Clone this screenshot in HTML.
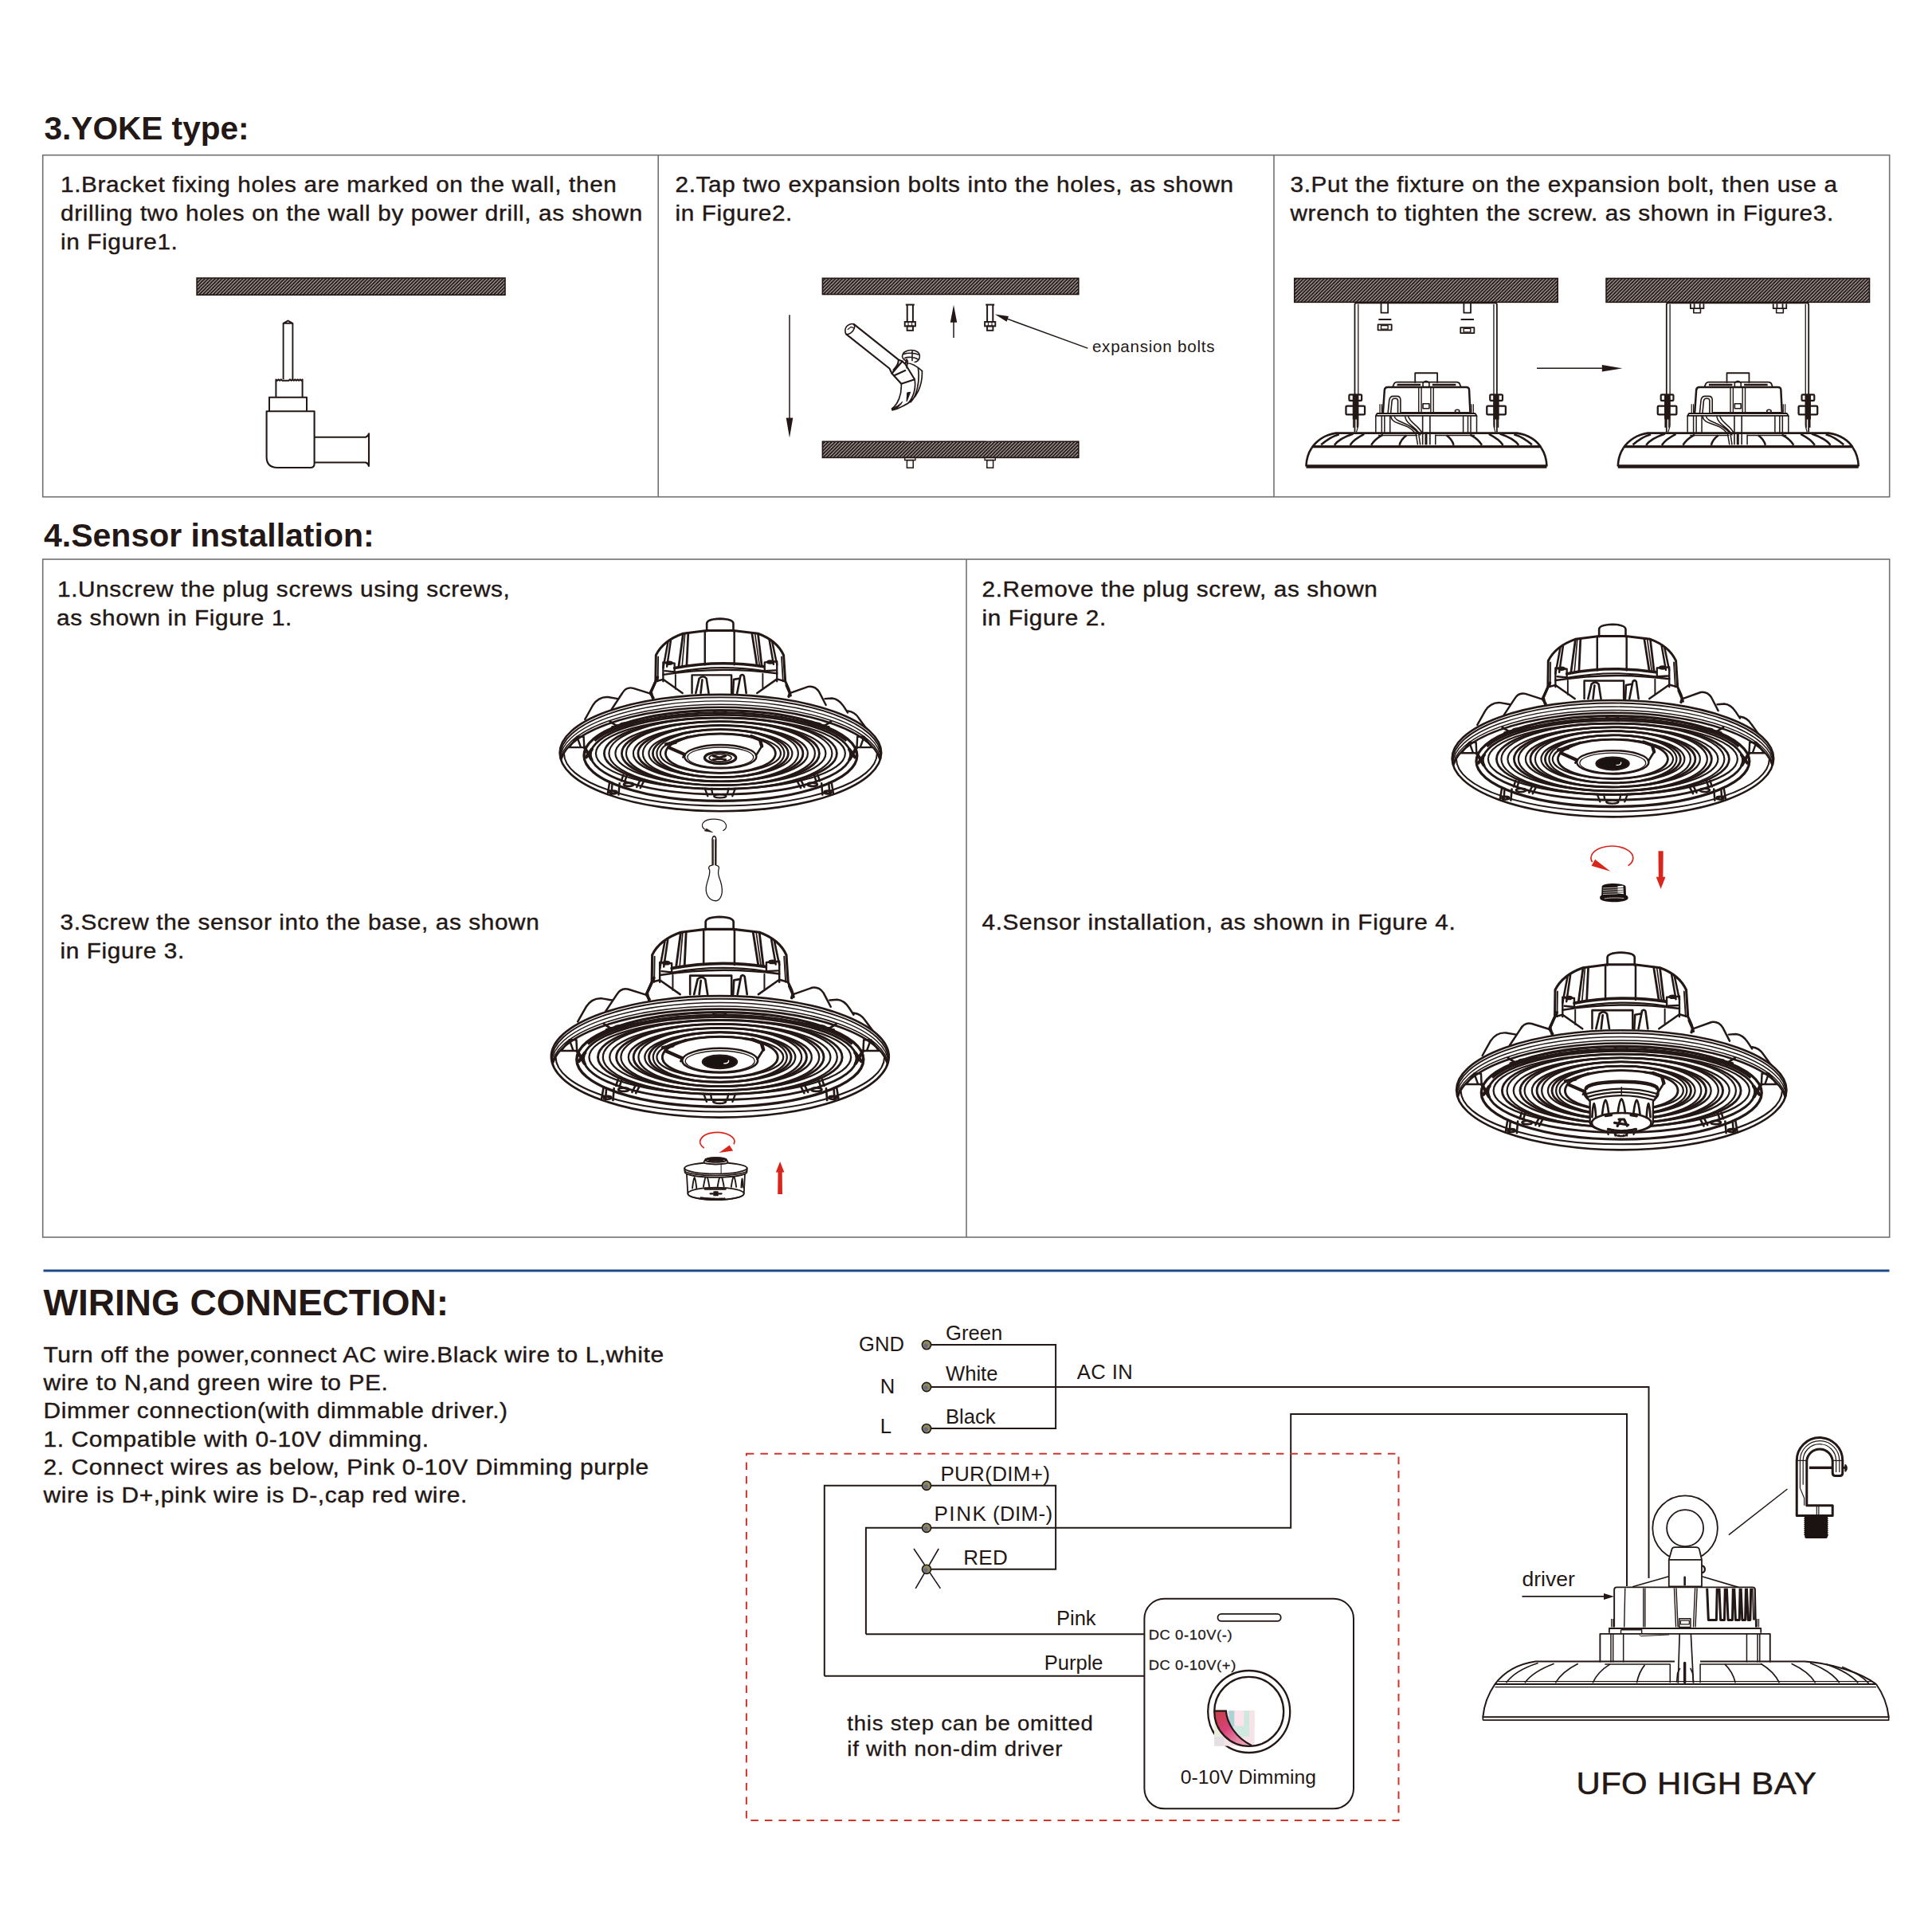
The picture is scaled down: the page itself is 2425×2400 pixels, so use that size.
<!DOCTYPE html>
<html><head><meta charset="utf-8"><title>Installation guide</title>
<style>
html,body{margin:0;padding:0;background:#fff;}
body{width:2425px;height:2400px;overflow:hidden;}
svg{display:block;font-family:"Liberation Sans",sans-serif;fill:#231815;}
</style></head><body>
<svg width="2425" height="2400" viewBox="0 0 2425 2400">
<defs>
<pattern id="hatch" patternUnits="userSpaceOnUse" width="4.35" height="4.35">
<rect x="0" y="0" width="4.35" height="4.35" fill="#231815"/>
<g stroke="#cdc7c5" stroke-width="1.05">
<line x1="-1" y1="5.35" x2="5.35" y2="-1"/>
<line x1="-5.35" y1="5.35" x2="1" y2="-1"/>
<line x1="3.35" y1="5.35" x2="9.7" y2="-1"/>
</g></pattern>
<clipPath id="rimclip"><ellipse cx="904.4" cy="945.1" rx="201.8" ry="73.2"/></clipPath>
<g id="lampbody">
<g fill="none" stroke="#231815" stroke-width="2.2" stroke-linejoin="round" stroke-linecap="round">
<path d="M 887.14 792.14 L 887.14 782.62 Q 887.62 777.14 903.81 776.67 Q 920 777.14 920.48 782.62 L 920.48 792.14" stroke-width="2.6"/>
<path d="M 819.29 876.67 L 817.38 868.33 L 822.86 855.24 L 823.33 822.38 Q 832.38 804.05 857.38 795.24 L 887.14 791.43 L 920.48 791.43 L 951.43 795.24 Q 975.24 804.05 983.57 822.38 L 985.71 855.24 L 990 864.76 L 992.38 873.1" stroke-width="3"/>
<path d="M 825.71 855.24 L 826.19 824.29 M 982.86 855.24 L 980.95 824.29" stroke-width="1.78"/>
<path d="M 884.76 792.14 L 884.76 834.29 M 921.67 792.14 L 921.67 834.29" stroke-width="2.46"/>
<path d="M 857.38 795.71 L 851.9 836.67 M 863.81 794.76 L 861.9 835.71 M 943.81 794.76 L 950.24 835.71 M 951.43 795.71 L 956.19 836.19" stroke-width="2.73"/>
<path d="M 859.76 795.71 L 856.19 836.19 M 947.62 795.24 L 953.33 835.71" stroke-width="1.64"/>
<path d="M 838.33 806.43 L 832.38 838.57 M 841.9 804.29 L 837.14 836.67 M 969.29 805.71 L 975.24 834.29 M 965.71 803.81 L 970.95 833.81" stroke-width="2.46"/>
<path d="M 846.67 838.57 Q 902.62 827.86 958.57 836.67" stroke-width="3.55"/>
<path d="M 846.67 843.81 Q 902.62 833.33 958.57 842.14" stroke-width="2.18"/>
<path d="M 832.38 846.9 Q 902.62 835.71 975.24 845.24" stroke-width="2.46"/>
<path d="M 832.38 831.43 L 832.38 855.24 M 832.38 831.43 L 846.67 832.62 L 846.67 843.33 M 834.76 842.14 L 846.67 843.33 M 975.24 830.24 L 975.24 855.24 M 975.24 830.24 L 959.76 831.43 L 959.76 842.14 M 973.33 841.43 L 959.76 842.14" stroke-width="2.32"/>
<ellipse cx="840" cy="832.14" rx="3.81" ry="1.67" stroke-width="2.18"/>
<ellipse cx="966.9" cy="830.95" rx="3.81" ry="1.67" stroke-width="2.18"/>
<path d="M 847.86 846.9 L 847.86 864.76 M 957.38 845.71 L 957.38 863.57" stroke-width="1.92"/>
<path d="M 832.38 852.86 L 856.67 870 M 975.24 852.38 L 950.24 870 M 822.86 855.24 L 832.38 852.86 M 985.71 855.24 L 975.24 852.38" stroke-width="2.46"/>
<path d="M 868.57 870 L 868.57 847.38 L 918.1 847.38 L 918.1 870" stroke-width="2.46"/>
<path d="M 873.33 870 L 877.62 851.67 Q 882.38 846.9 886.67 851.67 L 889.52 870 M 879.52 870 L 881.43 853.33 M 920 870 L 920.95 852.86 L 927.62 851.67 M 925.24 870 L 929.52 848.1 Q 932.38 845.71 933.81 848.57 L 936.67 870" stroke-width="2.6"/>
<path d="M 816.43 870.71 L 794.76 863.81 Q 785.95 861.67 780.95 870.24 L 767.62 890.48" stroke-width="2.4"/>
<path d="M 775.48 877.14 L 763.33 875 Q 751.43 874.05 744.29 885 L 734.29 902.86" stroke-width="2.4"/>
<path d="M 991.19 870.24 L 1014.52 861.9 Q 1022.86 860.48 1028.1 868.33 L 1036.67 885" stroke-width="2.4"/>
<path d="M 1035.48 877.14 L 1044.29 876.43 Q 1052.62 877.14 1058.57 886.19 L 1064.05 894.52" stroke-width="2.4"/>
<path d="M 1064.05 892.38 Q 1072.86 893.33 1078.1 901.67 L 1087.62 914.76 L 1099.52 930.95" stroke-width="2.4"/>
<path d="M 825.48 850 L 816.19 870 L 820 876.19 M 987.14 860 L 991.43 870 L 990 874.29" stroke-width="3.4"/>
</g>
<g fill="none" stroke="#231815">
<ellipse cx="904.4" cy="945.1" rx="201.8" ry="73.2" stroke-width="2.6" fill="#fff"/>
<g clip-path="url(#rimclip)">
<path d="M703.4 948 A201 72.6 0 0 1 1105.4 948" stroke-width="1.9"/>
<path d="M703.4 952.5 A201 72.6 0 0 1 1105.4 952.5" stroke-width="1.4"/>
<path d="M703.4 956.9 A201 72.6 0 0 1 1105.4 956.9" stroke-width="1.5"/>
<path d="M703.4 960.3 A201 72.6 0 0 1 1105.4 960.3" stroke-width="2.5"/>
</g>
<path d="M708 946 A196.4 65.5 0 0 0 1100.8 946" stroke-width="2"/>
<ellipse cx="904.4" cy="948.5" rx="171.4" ry="56.9" stroke-width="3.3"/>
<ellipse cx="904.4" cy="947.2" rx="163.1" ry="49.9" stroke-width="2.8"/>
<path d="M746.4 930 A167.5 52.6 0 0 1 1062.4 930" stroke-width="3"/>
<ellipse cx="904.4" cy="945.7" rx="156.5" ry="44.7" stroke-width="2.2"/>
<ellipse cx="904.4" cy="945.7" rx="146" ry="44.7" stroke-width="2.8"/>
<ellipse cx="904.4" cy="945.7" rx="140" ry="44.7" stroke-width="2.2"/>
<ellipse cx="904.4" cy="945.7" rx="132" ry="40" stroke-width="2.2"/>
<ellipse cx="904.4" cy="945.7" rx="124" ry="40" stroke-width="2.8"/>
<ellipse cx="904.4" cy="945.7" rx="118.5" ry="40" stroke-width="2.2"/>
<ellipse cx="904.4" cy="945.7" rx="109.5" ry="35.2" stroke-width="2.2"/>
<ellipse cx="904.4" cy="945.7" rx="103.5" ry="35.2" stroke-width="2.8"/>
<ellipse cx="904.4" cy="945.7" rx="97.5" ry="35.2" stroke-width="2.2"/>
<ellipse cx="904.4" cy="945.7" rx="90" ry="30" stroke-width="2.2"/>
<ellipse cx="904.4" cy="945.7" rx="85" ry="30" stroke-width="2.8"/>
<ellipse cx="904.4" cy="945.7" rx="80" ry="30" stroke-width="2.2"/>
<ellipse cx="904.4" cy="945.7" rx="75.6" ry="24.7" stroke-width="2.2"/>
<ellipse cx="904.4" cy="945.7" rx="69" ry="24.7" stroke-width="2.8"/>
<ellipse cx="904.3" cy="949.7" rx="45.2" ry="14.7" stroke-width="2.4"/>
<ellipse cx="904.3" cy="950.6" rx="41.5" ry="12.6" stroke-width="1.3"/>
</g>
<g fill="none" stroke="#231815" stroke-width="2.4" stroke-linejoin="round" stroke-linecap="round">
<path d="M 714.52 938.1 L 724.29 924.76 L 732.62 924.76 L 733.33 938.1 Z M 724.29 924.76 L 729.05 938.1 M 1094.29 938.1 L 1084.52 924.76 L 1076.19 924.76 L 1075.48 938.1 Z M 1084.52 924.76 L 1079.76 938.1" stroke-width="2.4"/>
<path d="M 733.81 938.57 L 742.38 953.33 M 742.86 940.48 L 735.71 950.48 M 1075 938.57 L 1066.43 953.33 M 1065.95 940.48 L 1073.1 950.48" stroke-width="4"/>
<path d="M 762.86 995.71 L 765.24 981.43 M 767.38 997.14 L 768.57 982.86 M 776.43 997.62 L 777.62 983.33 M 1045.95 995.71 L 1043.57 981.43 M 1041.43 997.14 L 1040.24 982.86 M 1032.38 997.62 L 1031.19 983.33" stroke-width="2.5"/>
<path d="M 780 980.24 L 782.38 972.62 M 784.52 980.24 L 786.9 972.62 M 799.29 987.86 L 803.81 978.57 M 803.81 989.05 L 808.57 979.76 M 1028.81 980.24 L 1026.43 972.62 M 1024.29 980.24 L 1021.9 972.62 M 1009.52 987.86 L 1005 978.57 M 1005 989.05 L 1000.24 979.76" stroke-width="2.5"/>
<path d="M 884.76 989.76 L 888.33 999.29 M 922.86 989.76 L 919.29 999.29 M 893.1 989.76 L 894.29 996.9 M 914.52 989.76 L 912.86 996.9" stroke-width="2.3"/>
<ellipse cx="903.81" cy="999.29" rx="7.62" ry="2.14" stroke-width="2.3"/>
<ellipse cx="903.81" cy="894.05" rx="7.62" ry="2.14" stroke-width="2.3"/>
<ellipse cx="769.76" cy="994.52" rx="4.52" ry="1.9" stroke-width="2.6"/>
<ellipse cx="1039.05" cy="994.52" rx="4.52" ry="1.9" stroke-width="2.6"/>
<ellipse cx="789.05" cy="984.76" rx="6.19" ry="2.14" stroke-width="2.6"/>
<ellipse cx="1019.76" cy="984.76" rx="6.19" ry="2.14" stroke-width="2.6"/>
<ellipse cx="785.95" cy="909.29" rx="7.14" ry="1.9" stroke-width="2.3"/>
<ellipse cx="1022.86" cy="909.29" rx="7.14" ry="1.9" stroke-width="2.3"/>
<path d="M 765.71 905.71 L 775.71 912.38 M 1043.1 905.71 L 1033.1 912.38 M 768.57 912.38 L 800.24 904.05 M 1040.24 912.38 L 1008.57 904.05" stroke-width="2.8"/>
<path d="M 835.95 934.29 L 847.86 931.9 M 839.05 938.1 L 859.05 946.9 M 943.1 924.29 L 953.81 928.57 L 956.19 936.67" stroke-width="4.2"/>
<path d="M 847.86 931.9 L 863.33 924.76 M 932.38 923.33 L 943.1 924.29 M 859.05 946.9 L 857.38 950.48 M 956.19 936.67 L 949.05 948.1" stroke-width="2.6"/>
</g>
</g>
</defs>
<!-- layout -->
<g fill="none" stroke="#727171" stroke-width="1.6">
<rect x="53.7" y="194.7" width="2318" height="429"/>
<line x1="826.2" y1="194.7" x2="826.2" y2="623.7"/>
<line x1="1599" y1="194.7" x2="1599" y2="623.7"/>
<rect x="53.7" y="702" width="2318" height="851"/>
<line x1="1213" y1="702" x2="1213" y2="1553"/>
</g>
<line x1="54.5" y1="1595" x2="2371.5" y2="1595" stroke-width="3.2" stroke="#1d4b8a"/>
<text x="55.5" y="174.5" font-size="40.6" font-weight="bold">3.YOKE type:</text>
<text x="55" y="686" font-size="41" font-weight="bold">4.Sensor installation:</text>
<text x="54.5" y="1651" font-size="46" font-weight="bold">WIRING CONNECTION:</text>
<text transform="translate(76 241.3) scale(1.07 1)" font-size="27.8" letter-spacing="0.6" stroke="#231815" stroke-width="0.4">1.Bracket fixing holes are marked on the wall, then</text>
<text transform="translate(76 277) scale(1.07 1)" font-size="27.8" letter-spacing="0.6" stroke="#231815" stroke-width="0.4">drilling two holes on the wall by power drill, as shown</text>
<text transform="translate(76 312.7) scale(1.07 1)" font-size="27.8" letter-spacing="0.6" stroke="#231815" stroke-width="0.4">in Figure1.</text>
<text transform="translate(847.5 241.3) scale(1.07 1)" font-size="27.8" letter-spacing="0.6" stroke="#231815" stroke-width="0.4">2.Tap two expansion bolts into the holes, as shown</text>
<text transform="translate(847.5 277) scale(1.07 1)" font-size="27.8" letter-spacing="0.6" stroke="#231815" stroke-width="0.4">in Figure2.</text>
<text transform="translate(1619.5 241.3) scale(1.07 1)" font-size="27.8" letter-spacing="0.6" stroke="#231815" stroke-width="0.4">3.Put the fixture on the expansion bolt, then use a</text>
<text transform="translate(1619.5 277) scale(1.07 1)" font-size="27.8" letter-spacing="0.6" stroke="#231815" stroke-width="0.4">wrench to tighten the screw. as shown in Figure3.</text>
<text transform="translate(72 748.7) scale(1.07 1)" font-size="27.8" letter-spacing="0.6" stroke="#231815" stroke-width="0.4">1.Unscrew the plug screws using screws,</text>
<text transform="translate(71 785) scale(1.07 1)" font-size="27.8" letter-spacing="0.6" stroke="#231815" stroke-width="0.4">as shown in Figure 1.</text>
<text transform="translate(75.5 1167) scale(1.07 1)" font-size="27.8" letter-spacing="0.6" stroke="#231815" stroke-width="0.4">3.Screw the sensor into the base, as shown</text>
<text transform="translate(75.5 1203) scale(1.07 1)" font-size="27.8" letter-spacing="0.6" stroke="#231815" stroke-width="0.4">in Figure 3.</text>
<text transform="translate(1232.5 748.7) scale(1.07 1)" font-size="27.8" letter-spacing="0.6" stroke="#231815" stroke-width="0.4">2.Remove the plug screw, as shown</text>
<text transform="translate(1232.5 785) scale(1.07 1)" font-size="27.8" letter-spacing="0.6" stroke="#231815" stroke-width="0.4">in Figure 2.</text>
<text transform="translate(1232.5 1167) scale(1.07 1)" font-size="27.8" letter-spacing="0.6" stroke="#231815" stroke-width="0.4">4.Sensor installation, as shown in Figure 4.</text>
<text transform="translate(54.5 1710) scale(1.07 1)" font-size="28" letter-spacing="0.56" stroke="#231815" stroke-width="0.4">Turn off the power,connect AC wire.Black wire to L,white</text>
<text transform="translate(54.5 1745.2) scale(1.07 1)" font-size="28" letter-spacing="0.56" stroke="#231815" stroke-width="0.4">wire to N,and green wire to PE.</text>
<text transform="translate(54.5 1780.4) scale(1.07 1)" font-size="28" letter-spacing="0.56" stroke="#231815" stroke-width="0.4">Dimmer connection(with dimmable driver.)</text>
<text transform="translate(54.5 1815.6) scale(1.07 1)" font-size="28" letter-spacing="0.56" stroke="#231815" stroke-width="0.4">1. Compatible with 0-10V dimming.</text>
<text transform="translate(54.5 1850.8) scale(1.07 1)" font-size="28" letter-spacing="0.56" stroke="#231815" stroke-width="0.4">2. Connect wires as below, Pink 0-10V Dimming purple</text>
<text transform="translate(54.5 1886) scale(1.07 1)" font-size="28" letter-spacing="0.56" stroke="#231815" stroke-width="0.4">wire is D+,pink wire is D-,cap red wire.</text>
<!-- wiring -->
<g fill="none" stroke="#231815" stroke-width="2">
<path d="M1163 1688.1 H1325.1 V1793.1 H1163"/>
<path d="M1163 1741 H2069.5 V1981"/>
<path d="M1086.9 2051.3 V1917.8 H1620.2 V1775 H2042 V1991"/>
<path d="M1034.8 2103.8 V1864.8 H1325.1 V1969.8 H1163"/>
<path d="M1086.9 2051.3 H1436.4"/>
<path d="M1034.8 2103.8 H1436.4"/>
<path d="M1147 1944 L1180.4 1993.9 M1178.2 1944 L1149.2 1993.9" stroke-width="1.6"/>
<rect x="1436.4" y="2006.8" width="262.6" height="263.5" stroke-width="2" rx="25"/>
<rect x="1528.5" y="2025.9" width="79.2" height="8.9" stroke-width="1.8" rx="4.4"/>
<circle cx="1567.7" cy="2148.5" r="51.5" stroke-width="2.3"/>
</g>
<rect x="1524.2" y="2147.3" width="50.5" height="44.3" fill="#f6e3e8"/>
<rect x="1542.5" y="2147.3" width="7" height="20" fill="#a9d3d4"/>
<rect x="1549.5" y="2147.3" width="12" height="18" fill="#fbe4ec"/>
<rect x="1561.5" y="2147.3" width="6.5" height="20" fill="#cde9dd"/>
<rect x="1568" y="2147.3" width="6.7" height="20" fill="#f8e3e6"/>
<rect x="1547" y="2167" width="21" height="13" fill="#cfe9e0"/>
<rect x="1524.2" y="2160" width="8" height="20" fill="#e9efd9"/>
<rect x="1524.2" y="2180" width="12" height="11.6" fill="#e3dfe2"/>
<linearGradient id="cres" x1="0" y1="0" x2="0.9" y2="1"><stop offset="0" stop-color="#c4413f"/><stop offset="0.45" stop-color="#d8417a"/><stop offset="1" stop-color="#f0b5c4"/></linearGradient>
<path d="M1524.3 2147.3 H1538.8 C1540 2163 1551 2181 1571 2191 A43.5 43.5 0 0 1 1524.3 2147.3 Z" fill="url(#cres)"/>
<circle cx="1567.7" cy="2148.4" r="43.5" fill="none" stroke="#231815" stroke-width="2.3"/>
<path d="M1524.3 2147.6 H1538.8 C1540 2163 1551 2181 1571 2191" stroke-width="2.2" fill="none" stroke="#231815"/>
<circle cx="1163" cy="1688.1" r="5.6" fill="#8d8a5c" stroke="#231815" stroke-width="1.6"/>
<circle cx="1162" cy="1689.1" r="2.6" fill="#6a6a86"/>
<circle cx="1163" cy="1741" r="5.6" fill="#8d8a5c" stroke="#231815" stroke-width="1.6"/>
<circle cx="1162" cy="1742" r="2.6" fill="#6a6a86"/>
<circle cx="1163" cy="1793.1" r="5.6" fill="#8d8a5c" stroke="#231815" stroke-width="1.6"/>
<circle cx="1162" cy="1794.1" r="2.6" fill="#6a6a86"/>
<circle cx="1163" cy="1864.8" r="5.6" fill="#8d8a5c" stroke="#231815" stroke-width="1.6"/>
<circle cx="1162" cy="1865.8" r="2.6" fill="#6a6a86"/>
<circle cx="1163" cy="1917.8" r="5.6" fill="#8d8a5c" stroke="#231815" stroke-width="1.6"/>
<circle cx="1162" cy="1918.8" r="2.6" fill="#6a6a86"/>
<circle cx="1163" cy="1969.8" r="5.6" fill="#8d8a5c" stroke="#231815" stroke-width="1.6"/>
<circle cx="1162" cy="1970.8" r="2.6" fill="#6a6a86"/>
<rect x="936.9" y="1824.7" width="818.6" height="460.3" fill="none" stroke="#d2342b" stroke-width="2" stroke-dasharray="9.5 8"/>
<text x="1078" y="1695.6" font-size="25.6">GND</text>
<text x="1104.7" y="1749" font-size="25.6">N</text>
<text x="1104.7" y="1798.9" font-size="25.6">L</text>
<text x="1187" y="1682.3" font-size="25.6">Green</text>
<text x="1187" y="1732.6" font-size="25.6">White</text>
<text x="1187" y="1786.9" font-size="25.6">Black</text>
<text x="1351.8" y="1731.3" font-size="25.6" letter-spacing="0.4">AC IN</text>
<text x="1180.4" y="1859" font-size="26" letter-spacing="0.3">PUR(DIM+)</text>
<text x="1172.4" y="1909.3" font-size="26" letter-spacing="1.6">PINK</text>
<text x="1246" y="1909.3" font-size="26" letter-spacing="0.3">(DIM-)</text>
<text x="1209.3" y="1964" font-size="26" letter-spacing="0.3">RED</text>
<text x="1326" y="2040.2" font-size="25.5">Pink</text>
<text x="1310.8" y="2095.8" font-size="25.5">Purple</text>
<text transform="translate(1441.7 2058) scale(1.08 1)" font-size="17" letter-spacing="0.56" stroke="#231815" stroke-width="0.25">DC 0-10V(-)</text>
<text transform="translate(1441.7 2095.8) scale(1.08 1)" font-size="17" letter-spacing="0.56" stroke="#231815" stroke-width="0.25">DC 0-10V(+)</text>
<text x="1481.8" y="2239.1" font-size="24.7">0-10V Dimming</text>
<text transform="translate(1063.3 2172.4) scale(1.06 1)" font-size="26" letter-spacing="0.72" stroke="#231815" stroke-width="0.3">this step can be omitted</text>
<text transform="translate(1063.3 2203.5) scale(1.06 1)" font-size="26" letter-spacing="0.72" stroke="#231815" stroke-width="0.3">if with non-dim driver</text>
<text x="1910.5" y="1991.2" font-size="26.5">driver</text>
<text transform="translate(1978.5 2251.5) scale(1.08 1)" font-size="38.8" letter-spacing="0.35" stroke="#231815" stroke-width="0.5">UFO HIGH BAY</text>
<!-- yoke -->
<rect x="247.1" y="349" width="386.9" height="21.2" stroke-width="1.6" fill="url(#hatch)" stroke="#231815"/>
<g fill="none" stroke="#231815" stroke-width="2" stroke-linejoin="round">
<path d="M355.6 476.2 V405.8 L361.5 402.5 L367.4 405.8 V476.2 M355.6 405.8 H367.4" stroke-width="1.9"/>
<path d="M346.4 498.7 V476.4 l1.6 1.3 l1.6 -1.3 l1.6 1.3 l1.6 -1.3 l1.6 1.3 h8 l1.6 -1.3 l1.6 1.3 l1.6 -1.3 l1.6 1.3 l1.6 -1.3 l1.6 1.3 l1.6 -1.3 l1.6 1.3 l1.6 -1.3 l1.6 1.3 l1.2 -1.3 V498.7"/>
<path d="M338 516.3 V498.7 H385 V516.3"/>
<path d="M334.6 516.3 H394.6 V582 Q394.6 587 389.6 587 H348 Q334.6 587 334.6 573.6 Z" stroke-width="2.1"/>
<path d="M394.6 548.7 H459 C461 548 462.5 546.5 463 544.3 V585 C462.5 582.6 461 581.2 459 580.5 H394.6" stroke-width="2.1"/>
</g>
<rect x="1032.4" y="349.3" width="321.4" height="20.2" stroke-width="1.6" fill="url(#hatch)" stroke="#231815"/>
<rect x="1032.4" y="554.2" width="321.4" height="20.2" stroke-width="1.6" fill="url(#hatch)" stroke="#231815"/>
<line x1="991" y1="395.2" x2="991" y2="530" stroke-width="1.5" stroke="#231815"/>
<path d="M991 549.6 L986.7 524.6 L995.3 524.6 Z" fill="#231815" stroke="none"/>
<line x1="1197" y1="424.1" x2="1197" y2="400" stroke-width="1.5" stroke="#231815"/>
<path d="M1197 382.8 L1201.2 404.8 L1192.8 404.8 Z" fill="#231815" stroke="none"/>
<g fill="none" stroke="#231815">
<path d="M1136.8 382.5 h11 M1138.7 382.5 v21.5 M1145.9 382.5 v21.5" stroke-width="2"/>
<rect x="1135.7" y="404" width="13.2" height="5.4" stroke-width="1.9"/>
<line x1="1140" y1="404" x2="1140" y2="409.4" stroke-width="1.1"/>
<line x1="1144.6" y1="404" x2="1144.6" y2="409.4" stroke-width="1.1"/>
<rect x="1138.6" y="409.4" width="7.4" height="5.4" stroke-width="1.9"/>
<path d="M1237.2 382.5 h11 M1239.1 382.5 v21.5 M1246.3 382.5 v21.5" stroke-width="2"/>
<rect x="1236.1" y="404" width="13.2" height="5.4" stroke-width="1.9"/>
<line x1="1240.4" y1="404" x2="1240.4" y2="409.4" stroke-width="1.1"/>
<line x1="1245" y1="404" x2="1245" y2="409.4" stroke-width="1.1"/>
<rect x="1239" y="409.4" width="7.4" height="5.4" stroke-width="1.9"/>
<rect x="1135.7" y="574.4" width="13.2" height="3.2" stroke-width="1.4"/>
<rect x="1138.4" y="577.6" width="7.8" height="9.6" stroke-width="1.5"/>
<line x1="1137.3" y1="553.6" x2="1147.3" y2="553.6" stroke-width="1" stroke="#9a9594"/>
<rect x="1236.1" y="574.4" width="13.2" height="3.2" stroke-width="1.4"/>
<rect x="1238.8" y="577.6" width="7.8" height="9.6" stroke-width="1.5"/>
<line x1="1237.7" y1="553.6" x2="1247.7" y2="553.6" stroke-width="1" stroke="#9a9594"/>
</g>
<line x1="1365.3" y1="437.1" x2="1258.19" y2="398.03" stroke-width="1.5" stroke="#231815"/>
<path d="M1248.8 394.6 L1266 397.04 L1263.54 403.81 Z" fill="#231815" stroke="none"/>
<text x="1370.9" y="441.8" font-size="20.6" letter-spacing="0.75">expansion bolts</text>
<g fill="none" stroke="#231815" stroke-width="2.1" stroke-linejoin="round" stroke-linecap="round">
<path d="M 1071.68 406.89 L 1127.58 451.37 L 1132.55 453.48 M 1062.36 419.69 L 1116.4 462.55 L 1119.5 468.76 M 1127.58 451.37 Q 1128.82 456.96 1121.37 464.41"/>
<path d="M 1071.68 406.89 C 1066.71 405.4 1060.5 409.75 1060.87 415.34 C 1061.12 419.07 1062.36 419.69 1062.36 419.69 M 1071.68 406.89 C 1074.16 409.75 1071.68 415.34 1067.95 417.83 C 1065.47 419.69 1062.98 419.69 1062.36 419.69" stroke-width="1.6"/>
<path d="M 1064.22 413.48 L 1067.95 410.37 L 1071.68 411.61" stroke-width="1.2"/>
<path d="M 1119.5 468.76 L 1132.55 453.48 L 1136.27 456.96 L 1148.07 476.21 L 1131.3 481.8 Z M 1122.61 471.24 L 1136.27 465.03 M 1136.27 456.96 L 1138.14 451.37"/>
<path d="M 1132.55 447.64 C 1132.55 442.05 1138.14 439.57 1143.73 439.57 C 1149.94 439.57 1154.91 442.67 1154.29 447.64 C 1154.29 451.99 1150.56 454.47 1148.07 454.47 M 1132.55 447.64 C 1133.17 450.75 1135.65 452.61 1139.38 453.23 M 1134.41 444.53 C 1138.14 442.67 1148.07 442.67 1152.42 445.16 M 1135.65 449.5 C 1139.38 447.64 1148.07 448.26 1151.8 450.75 M 1144.97 440.19 L 1144.97 452.61" stroke-width="1.6"/>
<path d="M 1138.14 455.71 C 1143.11 455.71 1149.32 458.2 1157.39 465.65 M 1139.38 453.23 L 1138.14 461.93" stroke-width="1.6"/>
<path d="M 1157.39 465.65 C 1158.01 481.8 1151.8 501.68 1134.41 509.13 C 1129.44 511.61 1124.47 514.1 1120.12 514.72 L 1119.5 512.86 C 1126.96 507.89 1131.93 495.47 1131.3 481.8 M 1148.07 476.21 C 1149.94 486.77 1146.83 499.19 1139.38 506.65 M 1152.42 461.93 C 1154.91 479.32 1150.56 496.71 1143.11 504.78" stroke-width="1.7"/>
<path d="M 1138.76 492.98 L 1138.14 503.54 L 1142.48 492.36 Z" stroke-width="1.2" fill="#231815"/>
<path d="M 1120.12 514.72 L 1119.5 512.86 C 1124.47 510.99 1129.44 507.89 1132.55 504.16 C 1130.68 509.13 1125.71 512.86 1120.12 514.72 Z" stroke-width="1" fill="#231815"/>
</g>
<rect x="1624.75" y="349.44" width="330.45" height="29.9" stroke-width="1.6" fill="url(#hatch)" stroke="#231815"/>
<g fill="none" stroke="#231815" stroke-width="1.8" stroke-linejoin="round">
<path d="M 1700.48 542.6 L 1700.48 382.29 Q 1700.48 380.32 1702.84 380.32 L 1876.52 380.32 Q 1878.88 380.32 1878.88 382.29 L 1878.88 542.6"/>
<path d="M 1704.81 534.73 L 1704.81 381.7 M 1874.95 381.7 L 1874.95 534.73" stroke-width="1.3"/>
<path d="M 1704.81 534.73 L 1702.45 542.6 M 1874.95 534.73 L 1876.92 542.6" stroke-width="1.2"/>
<path d="M 1733.52 380.32 L 1733.52 392.71 L 1742.18 392.71 L 1742.18 380.32"/>
<path d="M 1837.38 380.32 L 1837.38 392.71 L 1846.03 392.71 L 1846.03 380.32"/>
<path d="M 1730.38 400.98 L 1746.31 400.98 M 1833.64 400.98 L 1849.97 400.98" stroke-width="2.2"/>
<rect x="1729.59" y="407.47" width="17.11" height="6.88" stroke-width="1.8"/>
<rect x="1733.52" y="408.65" width="8.65" height="4.52" stroke-width="1.4"/>
<rect x="1833.25" y="411.2" width="17.11" height="6.88" stroke-width="1.8"/>
<rect x="1837.18" y="412.38" width="8.65" height="4.52" stroke-width="1.4"/>
<rect x="1693.4" y="495.39" width="15.74" height="7.47" stroke-width="2.2" rx="1.2"/>
<rect x="1689.46" y="509.55" width="23.6" height="10.82" stroke-width="2.3" rx="1.2"/>
<rect x="1698.32" y="496.37" width="5.9" height="29.5" stroke-width="1.2" fill="#231815"/>
<path d="M 1698.91 524.89 L 1698.91 536.7 M 1703.63 524.89 L 1703.63 536.7" stroke-width="1.6"/>
<rect x="1870.23" y="495.39" width="15.74" height="7.47" stroke-width="2.2" rx="1.2"/>
<rect x="1866.29" y="509.55" width="23.6" height="10.82" stroke-width="2.3" rx="1.2"/>
<rect x="1875.15" y="496.37" width="5.9" height="29.5" stroke-width="1.2" fill="#231815"/>
<path d="M 1875.74 524.89 L 1875.74 536.7 M 1880.46 524.89 L 1880.46 536.7" stroke-width="1.6"/>
<path d="M 1776.21 480.64 L 1776.21 468.25 L 1804.14 468.25 L 1804.14 480.64"/>
<path d="M 1747.69 486.54 L 1750.05 481.23 Q 1751.23 479.65 1753.59 479.65 L 1828.33 479.65 Q 1831.09 479.65 1832.27 482.01 L 1833.84 486.54" stroke-width="1.8"/>
<path d="M 1753.59 483 L 1783.09 483 M 1797.84 483 L 1827.35 483" stroke-width="2.4"/>
<path d="M 1786.04 486.54 L 1786.04 480.64 Q 1789.98 475.72 1793.91 480.64 L 1793.91 486.54" stroke-width="1.6"/>
<path d="M 1735.89 518.01 L 1737.85 489.49 Q 1738.25 485.95 1741.79 485.95 L 1840.13 485.95 Q 1844.07 485.95 1844.07 489.49 L 1845.44 518.01" stroke-width="2.5"/>
<path d="M 1780.73 486.54 L 1780.73 518.01 M 1784.08 486.54 L 1784.08 518.01 M 1795.88 486.54 L 1795.88 518.01 M 1799.22 486.54 L 1799.22 518.01" stroke-width="1.4"/>
<rect x="1786.04" y="506.8" width="7.87" height="5.9" stroke-width="1.6"/>
<path d="M 1742.18 518.01 L 1743.75 502.27 Q 1744.54 497.36 1748.67 497.36 L 1753.59 497.36 Q 1757.92 497.36 1757.92 502.27 L 1757.92 518.01 M 1745.72 518.01 L 1747.1 503.26 Q 1747.69 500.31 1750.05 500.31 L 1752.01 500.31 Q 1754.57 500.31 1754.57 503.26 L 1754.57 518.01" stroke-width="1.6"/>
<path d="M 1757.92 518.01 L 1845.44 518.01" stroke-width="2.2"/>
<ellipse cx="1829.12" cy="516.04" rx="2.75" ry="1.77" stroke-width="1.5"/>
<path d="M 1731.95 507.19 L 1731.95 518.01 M 1734.31 507.19 L 1734.31 518.01 M 1847.02 507.19 L 1847.02 518.01 M 1849.38 507.19 L 1849.38 518.01" stroke-width="1.2"/>
<path d="M 1728.61 518.99 L 1851.54 518.99 L 1853.51 521.94 L 1726.84 521.94 Z" stroke-width="1.8"/>
<path d="M 1726.84 521.94 L 1726.84 543.58 M 1734.31 521.94 L 1734.31 543.58 M 1737.85 521.94 L 1737.85 543.58 M 1744.74 521.94 L 1744.74 543.58 M 1853.51 521.94 L 1853.51 543.58 M 1846.03 521.94 L 1846.03 543.58 M 1836.59 521.94 L 1836.59 543.58 M 1842.49 521.94 L 1842.49 543.58" stroke-width="1.5"/>
<path d="M 1745.72 522.34 C 1747.69 534.73 1765.39 528.83 1777.19 544.56 L 1779.55 558.33 M 1750.05 522.34 C 1752.6 531.78 1767.36 527.84 1780.73 544.56 L 1782.7 558.33 M 1763.42 522.34 C 1765.39 533.75 1777.19 534.73 1783.09 546.53 M 1767.36 522.34 C 1770.31 531.78 1781.13 533.75 1786.04 545.55" stroke-width="1.5"/>
<path d="M 1785.65 521.94 L 1785.65 558.33 M 1794.89 521.94 L 1794.89 558.33" stroke-width="1.6"/>
<path d="M 1789.98 542.6 L 1789.98 558.33" stroke-width="3"/>
<path d="M 1646.39 562.27 C 1652.29 553.41 1663.11 545.55 1676.88 543.58 L 1904.06 543.58 C 1918.81 545.55 1929.63 553.41 1934.55 562.27" stroke-width="2.7"/>
<path d="M 1658.19 558.33 Q 1669.01 548.5 1680.81 545.15 M 1922.94 558.33 Q 1912.12 548.5 1900.32 545.15 M 1674.91 558.73 Q 1680.81 550.46 1698.51 544.56 M 1906.22 558.73 Q 1900.32 550.46 1882.62 544.56 M 1694.58 558.73 Q 1699.5 551.45 1712.28 544.96 M 1886.55 558.73 Q 1881.64 551.45 1868.85 544.96 M 1721.13 558.73 Q 1725.07 551.45 1735.89 545.55 M 1860 558.73 Q 1856.07 551.45 1845.25 545.55 M 1756.54 558.73 Q 1758.51 551.45 1765.39 546.53 M 1824.59 558.73 Q 1822.63 551.45 1815.74 546.53" stroke-width="2.6"/>
<path d="M 1729.98 546.53 L 1779.16 546.53 M 1801.78 546.53 L 1850.95 546.53 M 1801.78 558.33 L 1801.78 545.55" stroke-width="1.5"/>
<path d="M 1646.98 560.69 L 1934.15 560.69" stroke-width="3.2"/>
<path d="M 1646.39 562.27 C 1642.45 568.17 1639.9 576.03 1639.5 584.49 L 1941.43 584.49 C 1941.04 576.03 1938.48 568.17 1934.55 562.27" stroke-width="2.6"/>
<path d="M 1639.5 585.87 L 1941.43 585.87" stroke-width="3.6"/>
</g>
<rect x="2016.05" y="349.44" width="330.45" height="29.9" stroke-width="1.6" fill="url(#hatch)" stroke="#231815"/>
<g fill="none" stroke="#231815" stroke-width="1.8" stroke-linejoin="round">
<path d="M 2091.78 542.6 L 2091.78 382.29 Q 2091.78 380.32 2094.14 380.32 L 2267.82 380.32 Q 2270.18 380.32 2270.18 382.29 L 2270.18 542.6"/>
<path d="M 2096.11 534.73 L 2096.11 381.7 M 2266.25 381.7 L 2266.25 534.73" stroke-width="1.3"/>
<path d="M 2096.11 534.73 L 2093.75 542.6 M 2266.25 534.73 L 2268.22 542.6" stroke-width="1.2"/>
<path d="M 2121.87 381.31 L 2121.87 387.21 L 2138.4 387.21 L 2138.4 381.31 M 2126.6 381.31 L 2126.6 387.21 M 2133.68 381.31 L 2133.68 387.21" stroke-width="1.8"/>
<path d="M 2125.81 387.21 L 2125.81 392.71 L 2134.46 392.71 L 2134.46 387.21" stroke-width="1.6"/>
<path d="M 2225.73 381.31 L 2225.73 387.21 L 2242.25 387.21 L 2242.25 381.31 M 2230.45 381.31 L 2230.45 387.21 M 2237.53 381.31 L 2237.53 387.21" stroke-width="1.8"/>
<path d="M 2229.66 387.21 L 2229.66 392.71 L 2238.32 392.71 L 2238.32 387.21" stroke-width="1.6"/>
<rect x="2084.7" y="495.39" width="15.74" height="7.47" stroke-width="2.2" rx="1.2"/>
<rect x="2080.76" y="509.55" width="23.6" height="10.82" stroke-width="2.3" rx="1.2"/>
<rect x="2089.62" y="496.37" width="5.9" height="29.5" stroke-width="1.2" fill="#231815"/>
<path d="M 2090.21 524.89 L 2090.21 536.7 M 2094.93 524.89 L 2094.93 536.7" stroke-width="1.6"/>
<rect x="2261.53" y="495.39" width="15.74" height="7.47" stroke-width="2.2" rx="1.2"/>
<rect x="2257.59" y="509.55" width="23.6" height="10.82" stroke-width="2.3" rx="1.2"/>
<rect x="2266.45" y="496.37" width="5.9" height="29.5" stroke-width="1.2" fill="#231815"/>
<path d="M 2267.04 524.89 L 2267.04 536.7 M 2271.76 524.89 L 2271.76 536.7" stroke-width="1.6"/>
<path d="M 2167.51 480.64 L 2167.51 468.25 L 2195.44 468.25 L 2195.44 480.64"/>
<path d="M 2138.99 486.54 L 2141.35 481.23 Q 2142.53 479.65 2144.89 479.65 L 2219.63 479.65 Q 2222.39 479.65 2223.57 482.01 L 2225.14 486.54" stroke-width="1.8"/>
<path d="M 2144.89 483 L 2174.39 483 M 2189.14 483 L 2218.65 483" stroke-width="2.4"/>
<path d="M 2177.34 486.54 L 2177.34 480.64 Q 2181.28 475.72 2185.21 480.64 L 2185.21 486.54" stroke-width="1.6"/>
<path d="M 2127.19 518.01 L 2129.15 489.49 Q 2129.55 485.95 2133.09 485.95 L 2231.43 485.95 Q 2235.37 485.95 2235.37 489.49 L 2236.74 518.01" stroke-width="2.5"/>
<path d="M 2172.03 486.54 L 2172.03 518.01 M 2175.38 486.54 L 2175.38 518.01 M 2187.18 486.54 L 2187.18 518.01 M 2190.52 486.54 L 2190.52 518.01" stroke-width="1.4"/>
<rect x="2177.34" y="506.8" width="7.87" height="5.9" stroke-width="1.6"/>
<path d="M 2133.48 518.01 L 2135.05 502.27 Q 2135.84 497.36 2139.97 497.36 L 2144.89 497.36 Q 2149.22 497.36 2149.22 502.27 L 2149.22 518.01 M 2137.02 518.01 L 2138.4 503.26 Q 2138.99 500.31 2141.35 500.31 L 2143.31 500.31 Q 2145.87 500.31 2145.87 503.26 L 2145.87 518.01" stroke-width="1.6"/>
<path d="M 2149.22 518.01 L 2236.74 518.01" stroke-width="2.2"/>
<ellipse cx="2220.42" cy="516.04" rx="2.75" ry="1.77" stroke-width="1.5"/>
<path d="M 2123.25 507.19 L 2123.25 518.01 M 2125.61 507.19 L 2125.61 518.01 M 2238.32 507.19 L 2238.32 518.01 M 2240.68 507.19 L 2240.68 518.01" stroke-width="1.2"/>
<path d="M 2119.91 518.99 L 2242.84 518.99 L 2244.81 521.94 L 2118.14 521.94 Z" stroke-width="1.8"/>
<path d="M 2118.14 521.94 L 2118.14 543.58 M 2125.61 521.94 L 2125.61 543.58 M 2129.15 521.94 L 2129.15 543.58 M 2136.04 521.94 L 2136.04 543.58 M 2244.81 521.94 L 2244.81 543.58 M 2237.33 521.94 L 2237.33 543.58 M 2227.89 521.94 L 2227.89 543.58 M 2233.79 521.94 L 2233.79 543.58" stroke-width="1.5"/>
<path d="M 2137.02 522.34 C 2138.99 534.73 2156.69 528.83 2168.49 544.56 L 2170.85 558.33 M 2141.35 522.34 C 2143.9 531.78 2158.66 527.84 2172.03 544.56 L 2174 558.33 M 2154.72 522.34 C 2156.69 533.75 2168.49 534.73 2174.39 546.53 M 2158.66 522.34 C 2161.61 531.78 2172.43 533.75 2177.34 545.55" stroke-width="1.5"/>
<path d="M 2176.95 521.94 L 2176.95 558.33 M 2186.19 521.94 L 2186.19 558.33" stroke-width="1.6"/>
<path d="M 2181.28 542.6 L 2181.28 558.33" stroke-width="3"/>
<path d="M 2037.69 562.27 C 2043.59 553.41 2054.41 545.55 2068.18 543.58 L 2295.36 543.58 C 2310.11 545.55 2320.93 553.41 2325.85 562.27" stroke-width="2.7"/>
<path d="M 2049.49 558.33 Q 2060.31 548.5 2072.11 545.15 M 2314.24 558.33 Q 2303.42 548.5 2291.62 545.15 M 2066.21 558.73 Q 2072.11 550.46 2089.81 544.56 M 2297.52 558.73 Q 2291.62 550.46 2273.92 544.56 M 2085.88 558.73 Q 2090.8 551.45 2103.58 544.96 M 2277.85 558.73 Q 2272.94 551.45 2260.15 544.96 M 2112.43 558.73 Q 2116.37 551.45 2127.19 545.55 M 2251.3 558.73 Q 2247.37 551.45 2236.55 545.55 M 2147.84 558.73 Q 2149.81 551.45 2156.69 546.53 M 2215.89 558.73 Q 2213.93 551.45 2207.04 546.53" stroke-width="2.6"/>
<path d="M 2121.28 546.53 L 2170.46 546.53 M 2193.08 546.53 L 2242.25 546.53 M 2193.08 558.33 L 2193.08 545.55" stroke-width="1.5"/>
<path d="M 2038.28 560.69 L 2325.45 560.69" stroke-width="3.2"/>
<path d="M 2037.69 562.27 C 2033.75 568.17 2031.2 576.03 2030.8 584.49 L 2332.73 584.49 C 2332.34 576.03 2329.78 568.17 2325.85 562.27" stroke-width="2.6"/>
<path d="M 2030.8 585.87 L 2332.73 585.87" stroke-width="3.6"/>
</g>
<line x1="1929" y1="462.3" x2="2014" y2="462.3" stroke-width="1.5" stroke="#231815"/>
<path d="M2036.4 462.3 L2010.8 466.6 L2010.8 458 Z" fill="#231815" stroke="none"/>
<!-- lamps -->
<use href="#lampbody"/>
<ellipse cx="904.1" cy="951.3" rx="19.6" ry="7.2" stroke-width="3.4" fill="#fff" stroke="#231815"/>
<ellipse cx="904.1" cy="951.3" rx="14" ry="4.6" stroke-width="1.6" fill="none" stroke="#231815"/>
<path d="M 895.48 948.81 L 910.48 953.57 M 910.48 948.81 L 895.48 953.57" stroke-width="3.4" fill="none" stroke="#231815" stroke-linecap="round"/>
<g transform="translate(1120 7.1)"><use href="#lampbody"/><ellipse cx="904.1" cy="951.3" rx="20.5" ry="7.8" stroke-width="2.4" fill="#1a1210" stroke="#231815"/>
<path d="M 908.57 953.33 Q 915.71 953.33 914.52 949.29" stroke-width="1.3" fill="none" stroke="#fff"/></g>
<g transform="translate(-45.86 342.15) scale(1.05005 1.04139)"><use href="#lampbody"/><ellipse cx="904.1" cy="951.3" rx="20.5" ry="7.8" stroke-width="2.4" fill="#1a1210" stroke="#231815"/>
<path d="M 908.57 953.33 Q 915.71 953.33 914.52 949.29" stroke-width="1.3" fill="none" stroke="#fff"/></g>
<g transform="translate(1106.87 399.71) scale(1.02651 1.02483)"><use href="#lampbody"/></g>
<g fill="none" stroke="#231815" stroke-width="2.2" stroke-linejoin="round" stroke-linecap="round">
<path d="M 1989.61 1367.28 A 45.85 9.32 0 0 1 2081.41 1367.28 L 2080.48 1371.47 Q 2079.08 1378.46 2074.88 1382.19 L 2074.88 1409.22 A 39.61 12.58 0 0 1 1995.67 1409.22 L 1995.67 1382.19 Q 1991.94 1378.46 1990.26 1371.47 Z" stroke-width="2.4" fill="#fff"/>
<path d="M 1991.01 1365.88 A 44.55 8.57 0 0 1 2080.01 1365.88" stroke-width="4.6"/>
<path d="M 1990.63 1373.06 Q 2035.46 1360.29 2080.29 1373.06 M 1992.12 1377.06 Q 2035.46 1364.67 2078.8 1377.06 M 1994.55 1381.07 Q 2035.46 1369.14 2076.28 1381.07" stroke-width="2.3"/>
<path d="M 2035.27 1364.67 L 2035.27 1373.62" stroke-width="1.5"/>
<ellipse cx="2035.27" cy="1409.4" rx="37.28" ry="12.3" stroke-width="2.5" fill="#fff"/>
<path d="M 1998.37 1402.23 Q 1999.39 1386.57 2000.79 1385.17 Q 2002.1 1386.57 2003.22 1402.23 M 2011.14 1398.5 Q 2012.91 1382.19 2015.24 1380.79 Q 2017.47 1382.19 2019.34 1398.5 M 2030.62 1396.92 Q 2032.67 1380.79 2035.27 1379.39 Q 2037.79 1380.79 2039.93 1396.92 M 2050.28 1398.5 Q 2052.05 1382.19 2054.38 1380.79 Q 2056.62 1382.19 2058.48 1398.5 M 2066.68 1402.23 Q 2067.71 1386.57 2069.11 1385.17 Q 2070.41 1386.57 2071.53 1402.23" stroke-width="2.7"/>
<path d="M 2015.24 1400.83 L 2022.69 1399.71 M 2046.92 1399.71 L 2054.38 1401.02" stroke-width="3"/>
<path d="M 2026.61 1409.4 L 2043.66 1412.01 M 2032.01 1405.02 L 2038.54 1405.02 L 2042.26 1413.13 M 2030.15 1413.41 L 2033.88 1405.96" stroke-width="3.2"/>
<path d="M 2018.5 1417.42 Q 2035.27 1421.8 2053.45 1417.42" stroke-width="3.4" stroke-dasharray="2.2 1.1"/>
<path d="M 2027.35 1424.13 L 2027.35 1425.99 M 2032.01 1424.59 L 2032.01 1426.46 M 2037.6 1424.59 L 2037.6 1426.46 M 2042.26 1424.13 L 2042.26 1425.99" stroke-width="1.5"/>
</g>
<g fill="none" stroke="#231815" stroke-width="1.2" stroke-linejoin="round">
<path d="M 907.3 1042.77 C 914.78 1039.91 913.42 1028.35 896.42 1028.22 C 880.79 1028.22 878.07 1037.19 884.87 1041.27" stroke-width="1.2"/>
<path d="M 884.19 1042.97 L 886.57 1039.91 L 894.72 1044.81 Z" stroke-width="0.5" fill="#231815"/>
<path d="M 894.18 1086.14 L 894.04 1053.51 Q 894.38 1049.77 896.42 1049.43 Q 898.46 1049.77 898.8 1053.51 L 898.67 1086.14" stroke-width="1.5"/>
<path d="M 895.2 1086.14 L 895.2 1053.51 M 897.78 1086.14 L 897.78 1053.51" stroke-width="1.2"/>
<path d="M 894.18 1086.14 Q 889.97 1086.48 889.63 1089.2 Q 889.63 1090.9 890.65 1091.92 Q 891.67 1095.66 887.59 1107.89 Q 884.19 1118.77 888.95 1125.57 Q 893.03 1131.35 899.82 1130.67 Q 905.26 1128.63 906.28 1120.13 Q 906.96 1111.97 902.54 1101.09 Q 900.84 1095.66 901.86 1091.92 Q 902.88 1090.56 902.2 1088.18 Q 901.18 1086.27 898.67 1086.14" stroke-width="1.3"/>
</g>
<path d="M2043.62 1086.64 A26.4 15 0 1 0 1998.59 1082.13" stroke-width="1.7" fill="none" stroke="#d9261c"/>
<path d="M2021.29 1093.8 L1997.59 1086.63 L2002.09 1078.63 Z" fill="#d9261c" stroke="none"/>
<path d="M2081.5 1068.2 L2087.7 1068.2 L2087.39 1100.7 L2090.5 1100.7 L2084.6 1115.7 L2078.7 1100.7 L2081.81 1100.7 Z" fill="#d9261c" stroke="none"/>
<path d="M 2010.62 1113.06 C 2010.62 1107.78 2040.55 1107.78 2040.55 1113.06 L 2040.99 1123.63 C 2044.07 1124.51 2044.07 1128.03 2042.75 1128.91 C 2037.46 1133.31 2014.58 1133.31 2008.86 1128.91 C 2007.54 1127.15 2007.98 1124.51 2010.18 1123.63 Z" fill="#1a1210" stroke="none"/>
<path d="M 2030.42 1112.18 L 2037.46 1111.74 L 2037.9 1122.31 L 2030.42 1121.43 Z" fill="#fff" stroke="none"/>
<path d="M 2011.94 1114.82 L 2030.42 1114.12 M 2011.94 1117.46 L 2030.42 1116.76 M 2011.94 1120.11 L 2030.42 1119.4 M 2011.94 1122.57 L 2030.42 1121.87 M 2013.7 1128.03 C 2019.86 1126.71 2032.18 1126.71 2038.35 1127.59" stroke-width="0.9" fill="none" stroke="#cfcaca"/>
<path d="M 2030.42 1114.82 L 2037.9 1114.47 M 2030.42 1117.46 L 2037.9 1117.29 M 2030.42 1119.93 L 2037.9 1119.93" stroke-width="0.8" fill="none" stroke="#1a1210"/>
<path d="M883.75 1440.95 A21.6 11.9 0 1 1 921.16 1436.38" stroke-width="1.7" fill="none" stroke="#d9261c"/>
<path d="M902.46 1446.98 L915.66 1437.38 L920.16 1444.38 Z" fill="#d9261c" stroke="none"/>
<path d="M976.2 1498.9 L982 1498.9 L981.71 1471.6 L984.4 1471.6 L979.1 1458 L973.8 1471.6 L976.49 1471.6 Z" fill="#d9261c" stroke="none"/>
<g fill="none" stroke="#231815" stroke-width="1.6" stroke-linejoin="round" stroke-linecap="round">
<path d="M 861.83 1471.62 L 863.33 1498.47 A 35.21 7.75 0 0 0 933.75 1498.47 L 935.07 1471.62 Z" stroke-width="1.8" fill="#fff"/>
<ellipse cx="898.54" cy="1498.2" rx="35.21" ry="7.57" stroke-width="1.7"/>
<path d="M 869.05 1491.43 Q 870.37 1479.72 871.69 1477.96 Q 873.01 1479.72 874.33 1491.43 M 882.96 1489.67 Q 884.81 1477.34 886.65 1475.58 Q 888.5 1477.34 890.35 1489.67 M 900.74 1489.23 Q 902.68 1477.08 904.7 1475.32 Q 906.64 1477.08 908.66 1489.23 M 917.82 1489.93 Q 919.4 1478.22 920.99 1476.46 Q 922.57 1478.22 924.15 1489.93 M 930.4 1490.55 Q 930.93 1481.3 931.55 1479.54 Q 932.08 1481.3 932.69 1490.55" stroke-width="1.9"/>
<path d="M 859.19 1466.34 L 859.72 1471.62 A 38.82 6.16 0 0 0 937.36 1471.62 L 937.71 1466.34 Z" stroke-width="1.9" fill="#fff"/>
<path d="M 859.45 1469.15 A 39 6.34 0 0 0 937.54 1469.15" stroke-width="1.7"/>
<ellipse cx="898.45" cy="1466.34" rx="39.26" ry="7.04" stroke-width="1.9" fill="#fff"/>
<path d="M 905.14 1461.5 L 905.14 1473.2" stroke-width="1"/>
<path d="M 883.57 1458.86 C 884.01 1451.37 913.06 1451.37 913.5 1458.86 A 14.96 2.64 0 0 1 883.57 1458.86 Z" stroke-width="1.8" fill="#fff"/>
<ellipse cx="898.54" cy="1455.95" rx="13.2" ry="2.64" stroke-width="2.2"/>
<ellipse cx="898.54" cy="1455.25" rx="9.24" ry="1.41" stroke-width="2.4" fill="#231815"/>
<path d="M 884.89 1492.57 L 910.42 1492.57" stroke-width="2.6"/>
<path d="M 891.5 1498.29 L 905.58 1498.29 M 896.34 1496.27 L 900.74 1500.23 M 900.74 1496.27 L 896.34 1500.23 M 898.54 1495.83 L 898.54 1500.49" stroke-width="2.2"/>
<path d="M 879.61 1503.31 Q 894.58 1505.25 909.54 1504.37" stroke-width="2" stroke-dasharray="2.5 1.2"/>
</g>
<!-- ufo -->
<g fill="none" stroke="#231815" stroke-width="1.7" stroke-linejoin="round">
<circle cx="2115.1" cy="1918.1" r="40.8" stroke-width="1.8"/>
<circle cx="2115.1" cy="1918.1" r="23" stroke-width="1.8"/>
<path d="M 2094.77 1991.3 L 2094.77 1957.82 L 2098.33 1945.27 Q 2098.74 1942.13 2102.51 1942.13 L 2128.66 1942.13 Q 2132.43 1942.13 2133.05 1945.27 L 2135.98 1957.82 L 2135.98 1991.3 Z" stroke-width="1.8" fill="#fff"/>
<path d="M 2094.77 1957.82 L 2135.98 1957.82"/>
<path d="M 2114.64 1979.79 L 2114.64 1989.21" stroke-width="2.6" stroke-linecap="round"/>
<path d="M 2135.98 1965.15 Q 2140.59 1966.19 2139.75 1971.42 Q 2138.49 1974.56 2135.98 1974.14" stroke-width="2.2"/>
<path d="M 2049.16 1991.72 L 2094.77 1978.74 M 2135.98 1978.74 L 2182.01 1992.34"/>
<path d="M 2026.15 2042.55 L 2026.15 1995.48 Q 2026.15 1992.34 2029.29 1992.34 L 2199.79 1992.34 Q 2202.93 1992.34 2202.93 1995.48 L 2203.97 2042.55" stroke-width="1.9"/>
<path d="M 2039.75 1993.39 L 2038.7 2042.55 M 2062.76 1993.39 L 2062.76 2042.55 M 2064.85 1993.39 L 2064.85 2042.55 M 2101.46 1993.39 L 2103.56 2042.55 M 2103.97 1993.39 L 2106.07 2042.55 M 2127.62 1993.39 L 2125.52 2042.55 M 2130.13 1993.39 L 2128.03 2042.55" stroke-width="1.4"/>
<rect x="2107.74" y="2031.67" width="14.23" height="10.88" stroke-width="1.5"/>
<rect x="2109.41" y="2034.18" width="10.88" height="4.6" stroke-width="1.2"/>
<path d="M 2142.68 1993.81 L 2144.35 2033.56 L 2154.39 2033.56 L 2155.23 1993.81 M 2157.95 1993.81 L 2159.62 2033.56 L 2164.44 2033.56 L 2165.27 1993.81 M 2167.36 1993.81 L 2169.04 2033.56 L 2174.48 2033.56 L 2175.31 1993.81 M 2176.78 1993.81 L 2178.45 2033.56 L 2183.26 2033.56 L 2184.1 1993.81 M 2185.15 1993.81 L 2186.82 2033.56 L 2190.59 2033.56 L 2191.42 1993.81 M 2192.47 1993.81 L 2194.14 2033.56 L 2196.86 2033.56 L 2197.7 1993.81" stroke-width="3"/>
<path d="M 2199.79 1993.81 L 2200.84 2033.56 M 2202.51 1993.81 L 2202.51 2033.56" stroke-width="1.6"/>
<path d="M 2022.59 2032.09 L 2022.59 2042.55 M 2024.69 2032.09 L 2024.69 2042.55 M 2205.44 2032.09 L 2205.44 2042.55 M 2207.53 2032.09 L 2207.53 2042.55" stroke-width="1.2"/>
<path d="M 2019.87 2049.87 L 2019.87 2044.02 L 2210.25 2044.02 L 2210.25 2049.87" stroke-width="1.8"/>
<path d="M 2034.52 2045.69 L 2060.67 2045.69 L 2060.67 2050.29 M 2034.52 2045.69 L 2034.52 2050.29" stroke-width="1.4"/>
<path d="M 2008.37 2086.49 L 2008.37 2050.92 L 2221.76 2050.92 L 2221.76 2086.49" stroke-width="1.9"/>
<path d="M 2021.97 2050.92 L 2021.97 2086.49 M 2024.69 2050.92 L 2024.69 2086.49 M 2037.66 2050.92 L 2037.66 2086.49 M 2192.47 2050.92 L 2192.47 2086.49 M 2206.07 2050.92 L 2206.07 2086.49 M 2208.79 2050.92 L 2208.79 2086.49" stroke-width="1.5"/>
<path d="M 2057.53 2051.97 L 2059.62 2053.64 M 2095.19 2051.97 L 2059.62 2053.64" stroke-width="1"/>
<path d="M 2108.16 2050.92 L 2106.28 2112.64 M 2122.38 2050.92 L 2125.52 2112.64" stroke-width="1.7"/>
<path d="M 2114.64 2087.53 L 2114.64 2111.59" stroke-width="3.4" stroke-linecap="round"/>
<path d="M 2104.6 2111.59 L 2105.65 2100.08 L 2108.79 2093.81 M 2125.52 2111.59 L 2124.48 2100.08 L 2121.76 2093.81" stroke-width="1.6"/>
</g>
<g fill="none" stroke="#231815" stroke-width="1.9" stroke-linejoin="round">
<path d="M 1876.39 2113.99 C 1887.1 2099.93 1903.83 2088.89 1927.26 2085.54 L 2101.95 2085.54 M 2134.08 2085.54 L 2265.27 2085.54 C 2302.09 2088.22 2335.56 2099.93 2354.97 2113.99" stroke-width="2"/>
<path d="M 1890.44 2112.32 Q 1902.16 2096.59 1930.6 2087.55 M 1913.87 2112.32 Q 1923.91 2098.26 1950.68 2088.22 M 1952.36 2112.32 Q 1960.72 2098.26 1980.8 2088.22 M 1999.21 2112.32 Q 2004.9 2098.93 2020.96 2088.89 M 2054.43 2112.32 Q 2057.11 2098.93 2064.47 2089.89 M 2178.26 2112.32 Q 2174.91 2098.26 2164.87 2088.89 M 2233.48 2112.32 Q 2226.79 2098.26 2210.05 2088.22 M 2278.66 2112.32 Q 2270.29 2098.26 2248.54 2088.22 M 2308.78 2112.32 Q 2298.74 2097.59 2271.97 2087.55 M 2332.21 2112.32 Q 2320.5 2098.93 2292.05 2088.89 M 2345.6 2112.99 Q 2335.56 2101.61 2312.13 2092.24" stroke-width="1.7"/>
<path d="M 2014.27 2088.89 L 2096.27 2088.89 L 2096.27 2112.32 M 2134.08 2112.32 L 2134.08 2088.89 L 2211.73 2088.89" stroke-width="1.5"/>
<path d="M 1880.4 2110.64 L 2350.62 2110.64" stroke-width="1.3"/>
<path d="M 1876.39 2113.99 L 2354.97 2113.99" stroke-width="1.9"/>
<path d="M 1876.39 2117.67 L 2354.97 2117.67" stroke-width="1.3"/>
<path d="M 1876.39 2113.99 C 1867.68 2126.71 1862.66 2140.09 1861.33 2155.15 L 2370.7 2155.15 C 2369.02 2140.09 2364 2126.71 2354.97 2113.99" stroke-width="2"/>
<path d="M 1861.33 2159.17 L 2370.7 2159.17 L 2370.7 2155.15 M 1861.33 2155.15 L 1861.33 2159.17" stroke-width="1.6"/>
</g>
<line x1="1910.5" y1="2003.9" x2="2014" y2="2003.9" stroke-width="1.6" stroke="#231815"/>
<path d="M2026 2003.9 L2013 2007.9 L2013 1999.9 Z" fill="#231815" stroke="none"/>
<line x1="2169.9" y1="1926.6" x2="2243.5" y2="1869" stroke-width="1.5" stroke="#231815"/>
<g fill="none" stroke="#231815" stroke-width="1.8" stroke-linejoin="round">
<path d="M 2255.23 1902.38 L 2255.23 1833.35 A 28.66 28.66 0 0 1 2312.76 1833.35 L 2312.76 1849.04 Q 2312.76 1852.59 2309.21 1852.59 L 2303.77 1852.59 Q 2300.21 1852.59 2300.21 1849.04 L 2300.21 1833.35 A 16.32 16.32 0 0 0 2267.78 1833.35 L 2267.78 1889.83 L 2300.21 1889.83 L 2300.21 1902.38 Z" stroke-width="3" fill="#fff"/>
<path d="M 2259.41 1833.35 A 24.69 24.69 0 0 1 2308.79 1833.35 L 2308.79 1847.99 M 2263.18 1833.35 A 20.71 20.71 0 0 1 2304.6 1833.35 L 2304.6 1847.99" stroke-width="1.2"/>
<path d="M 2259.41 1833.35 L 2259.41 1867.87 L 2264.64 1880.42 L 2264.64 1889.83 M 2263.18 1833.35 L 2263.18 1863.68 M 2255.23 1833.35 L 2267.78 1833.35 M 2300.21 1833.35 L 2312.76 1833.35" stroke-width="1.2"/>
<path d="M 2280.33 1889.83 L 2280.33 1902.38 M 2282.85 1889.83 L 2282.85 1902.38" stroke-width="1.2"/>
<path d="M 2270.92 1842.34 L 2300.21 1842.34" stroke-width="3.4"/>
<path d="M 2312.76 1842.34 L 2315.9 1842.34" stroke-width="3"/>
<path d="M 2316.32 1839 Q 2319.67 1842.34 2316.32 1846.53 Z" stroke-width="2" fill="#231815"/>
</g>
<path d="M 2265.27 1902.38 L 2264.02 1903.64 L 2265.27 1904.9 L 2264.02 1906.15 L 2265.27 1907.41 L 2264.02 1908.66 L 2265.27 1909.92 L 2264.02 1911.17 L 2265.27 1912.43 L 2264.02 1913.68 L 2265.27 1914.94 L 2264.02 1916.19 L 2265.27 1917.45 L 2264.02 1918.7 L 2265.27 1919.96 L 2264.02 1921.21 L 2265.27 1922.47 L 2264.02 1923.72 L 2265.27 1924.98 L 2264.02 1926.23 L 2265.27 1927.49 L 2265.27 1929.58 Q 2265.27 1931.05 2266.95 1931.05 L 2292.05 1931.05 Q 2293.72 1931.05 2293.72 1929.58 L 2294.98 1926.23 L 2293.72 1924.98 L 2294.98 1923.72 L 2293.72 1922.47 L 2294.98 1921.21 L 2293.72 1919.96 L 2294.98 1918.7 L 2293.72 1917.45 L 2294.98 1916.19 L 2293.72 1914.94 L 2294.98 1913.68 L 2293.72 1912.43 L 2294.98 1911.17 L 2293.72 1909.92 L 2294.98 1908.66 L 2293.72 1907.41 L 2294.98 1906.15 L 2293.72 1904.9 L 2294.98 1903.64 L 2293.72 1902.38 Z" fill="#1a1311" stroke="none"/>
</svg>
</body></html>
